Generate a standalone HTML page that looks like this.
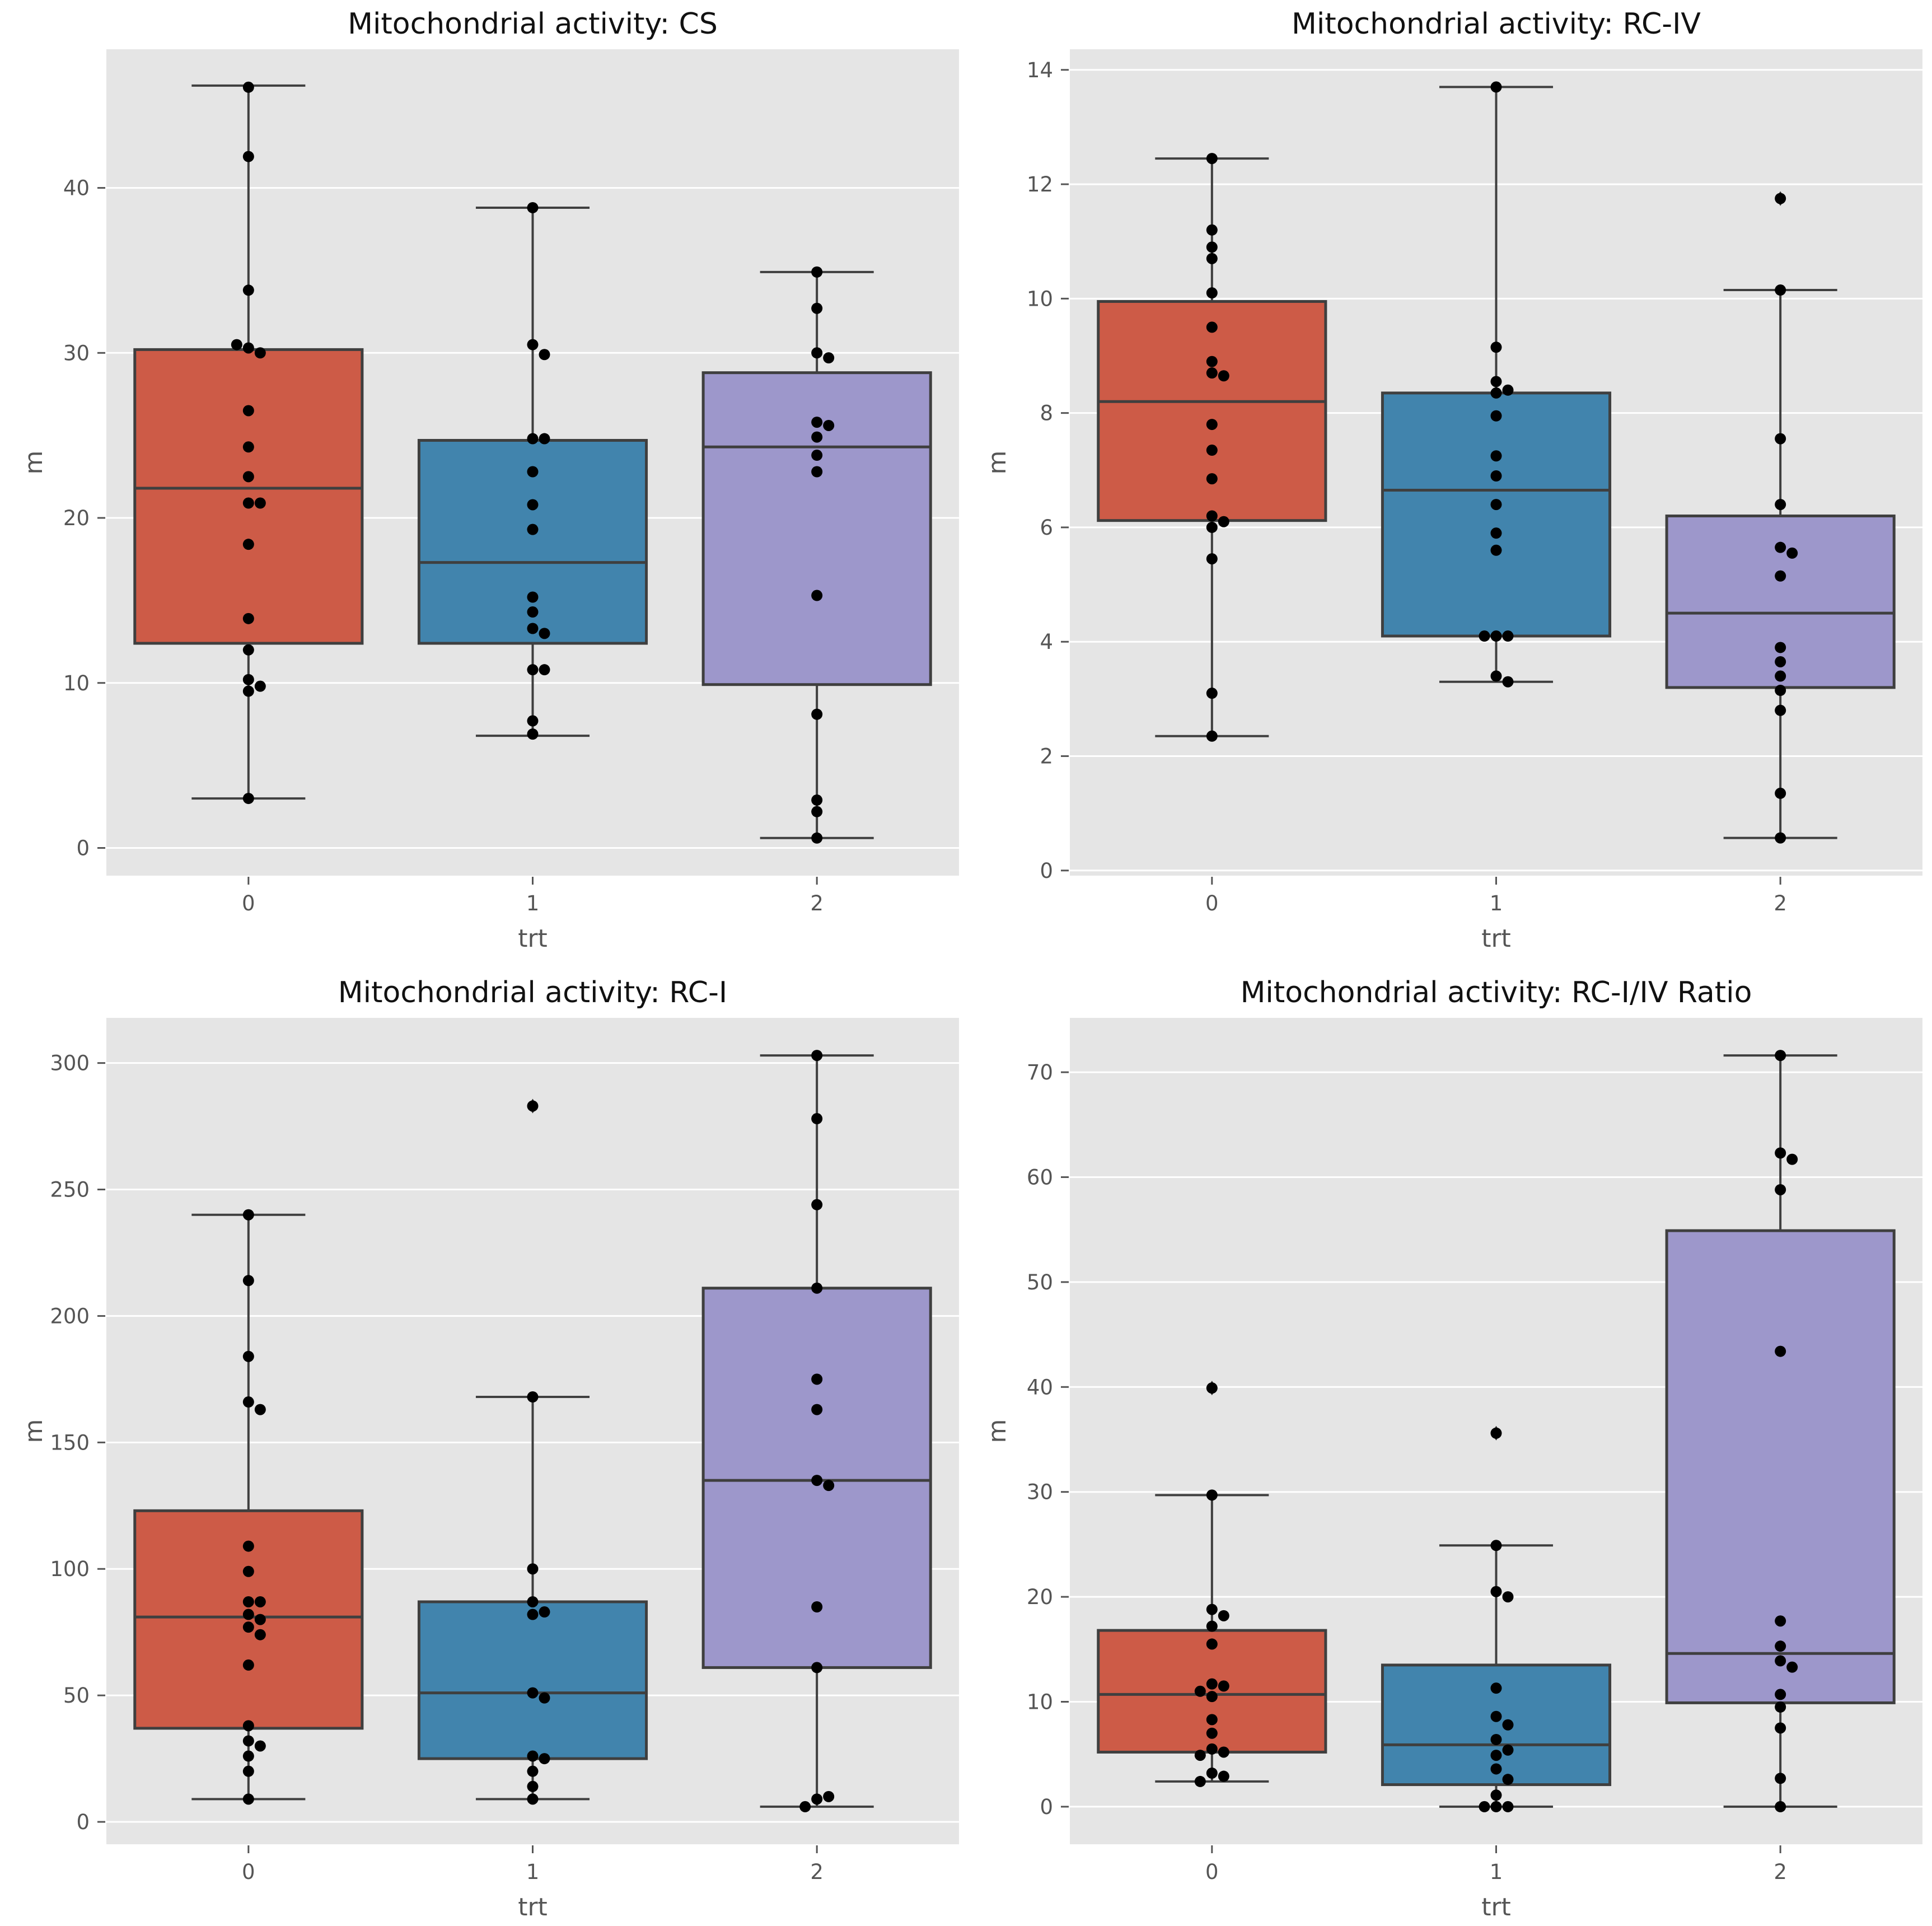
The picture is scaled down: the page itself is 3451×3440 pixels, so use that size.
<!DOCTYPE html>
<html><head><meta charset="utf-8"><style>
html,body{margin:0;padding:0;background:#fff}
svg{display:block}
text{font-family:"DejaVu Sans","Liberation Sans",sans-serif}
</style></head><body>
<svg id="fig" xmlns="http://www.w3.org/2000/svg" width="3451" height="3440" viewBox="0 0 3451 3440"></svg>
<script>
// ---- data ----
const categories = ["0","1","2"];
const titles = ["Mitochondrial activity: CS","Mitochondrial activity: RC-IV","Mitochondrial activity: RC-I","Mitochondrial activity: RC-I/IV Ratio"];
const yTicksCS = [0,10,20,30,40];
const yTicksRCIV = [0,2,4,6,8,10,12,14];
const yTicksRCI = [0,50,100,150,200,250,300];
const yTicksRatio = [0,10,20,30,40,50,60,70];
const yLimCS = [-1.68,48.4];
const yLimRCIV = [-0.09,14.36];
const yLimRCI = [-8.85,317.85];
const yLimRatio = [-3.58,75.18];
// box stats: [whiskerLow, q1, median, q3, whiskerHigh]
const boxCS = [[3,12.4,21.8,30.2,46.2],[6.8,12.4,17.3,24.7,38.8],[0.6,9.9,24.3,28.8,34.9]];
const boxRCIV = [[2.35,6.12,8.2,9.95,12.45],[3.3,4.1,6.65,8.35,13.7],[0.57,3.2,4.5,6.2,10.15]];
const boxRCI = [[9,37,81,123,240],[9,25,51,87,168],[6,61,135,211,303]];
const boxRatio = [[2.4,5.2,10.7,16.8,29.7],[0,2.1,5.9,13.5,24.9],[0,9.9,14.6,54.9,71.6]];
const outCS = [[],[],[]];
const outRCIV = [[],[],[11.75]];
const outRCI = [[],[283],[]];
const outRatio = [[39.9],[35.6],[]];
const ptsCS = [
 [46.1,41.9,33.8,30.3,30.0,30.5,26.5,24.3,22.5,20.9,20.9,18.4,13.9,12.0,10.2,9.8,9.5,3.0],
 [38.8,30.5,29.9,24.8,24.8,22.8,20.8,19.3,15.2,14.3,13.3,13.0,10.8,10.8,7.7,6.9],
 [34.9,32.7,30.0,29.7,25.8,25.6,24.9,23.8,22.8,15.3,8.1,2.9,2.2,0.6]];
const ptsRCIV = [
 [12.45,11.2,10.9,10.7,10.1,9.5,8.9,8.7,8.65,7.8,7.35,6.85,6.2,6.1,6.0,5.45,3.1,2.35],
 [13.7,9.15,8.55,8.4,8.35,7.95,7.25,6.9,6.4,5.9,5.6,4.1,4.1,4.1,3.4,3.3],
 [11.75,10.15,7.55,6.4,5.65,5.55,5.15,3.9,3.65,3.4,3.15,2.8,1.35,0.57]];
const ptsRCI = [
 [240,214,184,166,163,109,99,87,87,82,80,77,74,62,38,32,30,26,20,9],
 [283,168,100,87,83,82,51,49,26,25,20,14,9],
 [303,278,244,211,175,163,135,133,85,61,9,10,6]];
const ptsRatio = [
 [39.9,29.7,18.8,18.2,17.2,15.5,11.7,11.5,11.0,10.5,8.3,7.0,5.5,5.2,4.9,3.2,2.9,2.4],
 [35.6,24.9,20.5,20.0,11.3,8.6,7.8,6.4,5.4,4.9,3.6,2.6,1.1,0,0,0],
 [71.6,62.3,61.7,58.8,43.4,17.7,15.3,13.9,13.3,10.7,9.5,7.5,2.7,0]];

const colors = ["#cd5b47","#4184ad","#9d97cb"];
const NS = "http://www.w3.org/2000/svg";
const svg = document.getElementById("fig");
function mk(tag, attrs, parent){
  const e = document.createElementNS(NS, tag);
  for (const k in attrs) e.setAttribute(k, attrs[k]);
  (parent||svg).appendChild(e);
  return e;
}
const panels = [
 {x:190,y:88,title:titles[0],ticks:yTicksCS,lim:yLimCS,box:boxCS,pts:ptsCS,out:outCS,name:"cs"},
 {x:1911,y:88,title:titles[1],ticks:yTicksRCIV,lim:yLimRCIV,box:boxRCIV,pts:ptsRCIV,out:outRCIV,name:"rc-iv"},
 {x:190,y:1818,title:titles[2],ticks:yTicksRCI,lim:yLimRCI,box:boxRCI,pts:ptsRCI,out:outRCI,name:"rc-i"},
 {x:1911,y:1818,title:titles[3],ticks:yTicksRatio,lim:yLimRatio,box:boxRatio,pts:ptsRatio,out:outRatio,name:"ratio"}
];
const W = 1523, H = 1476, R = 10;
panels.forEach(p => {
  const g = mk("g", {});
  
  
  const yS = v => p.y + H - (v - p.lim[0]) / (p.lim[1] - p.lim[0]) * H;
  const xS = c => p.x + (c + 0.5) / 3 * W;
  const bg = mk("rect", {x:p.x,y:p.y,width:W,height:H,fill:"#e5e5e5"}, g);
  
  
  p.ticks.forEach(t => {
    const y = yS(t);
    const gl = mk("line", {x1:p.x,x2:p.x+W,y1:y,y2:y,stroke:"#fff","stroke-width":3}, g);
    
    
    mk("line", {x1:p.x-16,x2:p.x-2,y1:y,y2:y,stroke:"#555","stroke-width":3}, g);
    const tl = mk("text", {x:p.x-30,y:y+13,"text-anchor":"end","font-size":37,fill:"#555"}, g);
    tl.textContent = t;
    
    
  });
  categories.forEach((c, i) => {
    const x = xS(i);
    mk("line", {x1:x,x2:x,y1:p.y+H+2,y2:p.y+H+16,stroke:"#555","stroke-width":3}, g);
    const tl = mk("text", {x:x,y:p.y+H+62,"text-anchor":"middle","font-size":37,fill:"#555"}, g);
    tl.textContent = c;
    
    
  });
  const tt = mk("text", {x:p.x+W/2,y:p.y-28,"text-anchor":"middle","font-size":52,fill:"#111"}, g);
  tt.textContent = p.title;
  
  
  const xt = mk("text", {x:p.x+W/2,y:p.y+H+127,"text-anchor":"middle","font-size":44,fill:"#555"}, g);
  xt.textContent = "trt";
  
  
  const yt = mk("text", {x:0,y:0,"text-anchor":"middle","font-size":44,fill:"#555",transform:`translate(${p.x-115},${p.y+H/2}) rotate(-90)`}, g);
  yt.textContent = "m";
  
  
  p.box.forEach((b, i) => {
    const cx = xS(i), bw = W/3*0.8, cw = W/3*0.4;
    const bg2 = mk("g", {}, g);
    
    
    mk("line", {x1:cx,x2:cx,y1:yS(b[0]),y2:yS(b[1]),stroke:"#3f3f3f","stroke-width":4}, bg2);
    mk("line", {x1:cx,x2:cx,y1:yS(b[3]),y2:yS(b[4]),stroke:"#3f3f3f","stroke-width":4}, bg2);
    mk("line", {x1:cx-cw/2,x2:cx+cw/2,y1:yS(b[0]),y2:yS(b[0]),stroke:"#3f3f3f","stroke-width":4}, bg2);
    mk("line", {x1:cx-cw/2,x2:cx+cw/2,y1:yS(b[4]),y2:yS(b[4]),stroke:"#3f3f3f","stroke-width":4}, bg2);
    const rect = mk("rect", {x:cx-bw/2,y:yS(b[3]),width:bw,height:yS(b[1])-yS(b[3]),fill:colors[i],stroke:"#3f3f3f","stroke-width":5}, bg2);
    
    
    mk("line", {x1:cx-bw/2,x2:cx+bw/2,y1:yS(b[2]),y2:yS(b[2]),stroke:"#3f3f3f","stroke-width":5}, bg2);
    p.out[i].forEach(v => {
      const y = yS(v);
      const d = mk("polygon", {points:`${cx},${y-13} ${cx+9},${y} ${cx},${y+13} ${cx-9},${y}`,fill:"#333"}, bg2);
      
      
    });
    const placed = [];
    p.pts[i].forEach(v => {
      const y = yS(v);
      let off = 0;
      for (let k = 0; k < 40; k++) {
        const cand = k === 0 ? 0 : (k % 2 ? 1 : -1) * Math.ceil(k/2) * 2 * R * 1.05;
        const ok = placed.every(q => Math.hypot(q[0]-(cx+cand), q[1]-y) >= 2*R);
        if (ok) { off = cand; break; }
      }
      placed.push([cx+off, y]);
      const c = mk("circle", {cx:cx+off,cy:y,r:R,fill:"#000"}, bg2);
      
      
    });
  });
});
</script>
</body></html>
